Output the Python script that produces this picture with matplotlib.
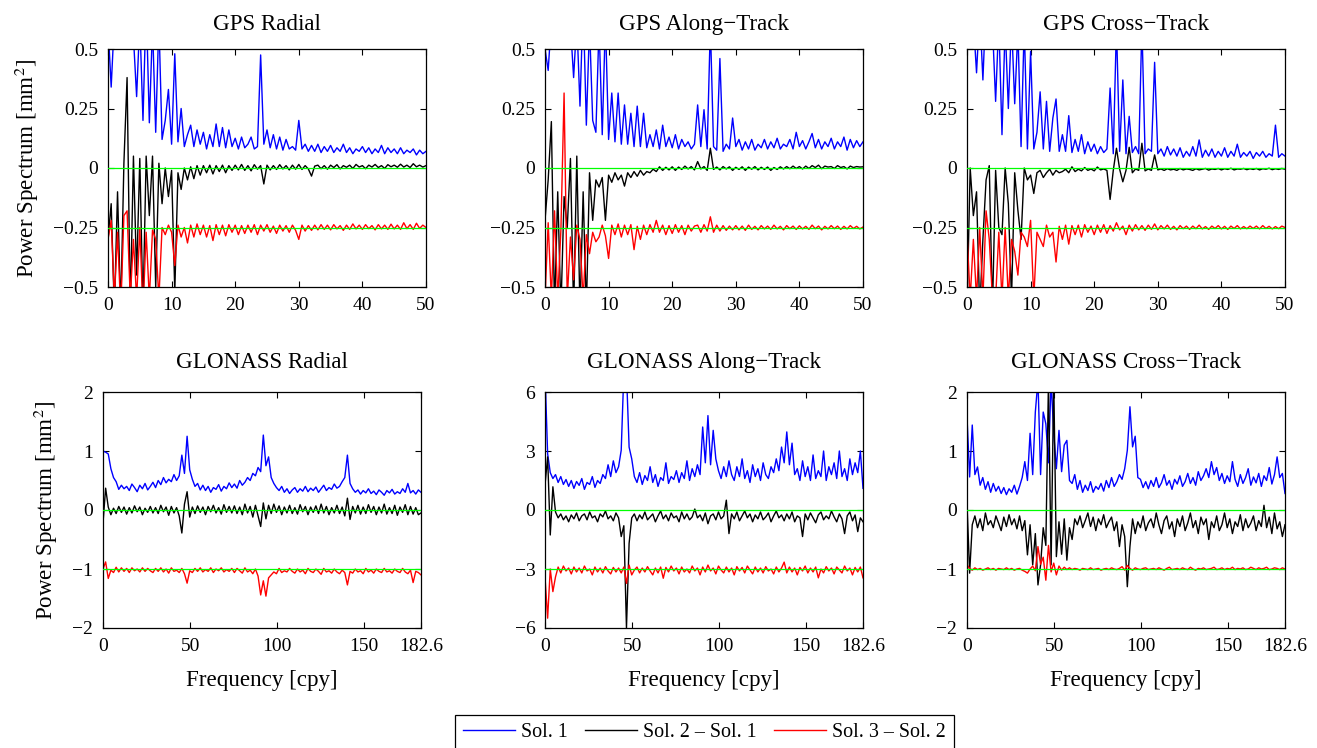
import numpy as np
import matplotlib
matplotlib.use("Agg")
import matplotlib.pyplot as plt

plt.rcParams["font.family"] = "Liberation Serif"
plt.rcParams["mathtext.fontset"] = "stix"

# frequency grids [cpy]
gps_freq = np.arange(101) * 0.5
glo_freq = np.linspace(0, 182.6, 122)

# ---------------- GPS radial ----------------
gps_rad_sol1 = [
    0.60, 0.34, 0.62, 0.70, 0.66, 0.80, 0.72, 0.58, 0.55, 0.30,
    0.62, 0.20, 0.70, 0.19, 0.60, 0.15, 0.62, 0.12, 0.20, 0.33,
    0.10, 0.48, 0.11, 0.25, 0.09, 0.14, 0.18, 0.09, 0.16, 0.10,
    0.15, 0.08, 0.14, 0.09, 0.185, 0.09, 0.17, 0.085, 0.16, 0.09,
    0.125, 0.08, 0.13, 0.085, 0.10, 0.13, 0.08, 0.09, 0.475, 0.10,
    0.16, 0.085, 0.14, 0.08, 0.13, 0.075, 0.12, 0.08, 0.09, 0.075,
    0.20, 0.08, 0.10, 0.07, 0.095, 0.07, 0.10, 0.065, 0.09, 0.07,
    0.095, 0.065, 0.085, 0.07, 0.10, 0.065, 0.085, 0.06, 0.08, 0.07,
    0.09, 0.065, 0.085, 0.06, 0.08, 0.065, 0.095, 0.06, 0.085, 0.065,
    0.08, 0.06, 0.085, 0.06, 0.075, 0.065, 0.08, 0.055, 0.075, 0.06,
    0.07]
gps_rad_sol21 = [
    -0.30, -0.15, -0.60, -0.10, -0.60, 0.02, 0.38, -0.60, 0.05, -0.45,
    0.04, -0.60, 0.05, -0.20, 0.05, -0.50, 0.02, -0.15, 0.00, -0.12,
    -0.01, -0.52, -0.02, -0.09, 0.00, -0.05, 0.005, -0.045, 0.01, -0.03,
    0.01, -0.02, 0.012, -0.025, 0.01, -0.015, 0.012, -0.02, 0.01, -0.01,
    0.012, -0.008, 0.015, -0.01, 0.01, -0.012, 0.014, -0.005, 0.01, -0.067,
    0.012, -0.008, 0.01, -0.006, 0.014, -0.004, 0.01, -0.008, 0.012, -0.005,
    0.015, -0.006, 0.01, -0.004, -0.034, 0.008, 0.012, -0.003, 0.01, -0.005,
    0.012, 0.002, 0.014, -0.004, 0.01, 0.003, 0.012, -0.002, 0.015, 0.004,
    0.01, -0.003, 0.012, 0.004, 0.015, 0.002, 0.01, -0.002, 0.014, 0.005,
    0.012, 0.003, 0.016, 0.004, 0.012, 0.002, 0.018, 0.005, 0.012, 0.004,
    0.01]
gps_rad_sol32 = [
    -0.05, 0.03, -0.30, -0.02, -0.35, 0.05, 0.07, -0.30, -0.05, -0.30,
    0.00, -0.35, -0.02, -0.30, -0.01, -0.05, -0.30, 0.00, -0.03, 0.01,
    -0.02, -0.16, 0.01, -0.04, 0.00, -0.065, 0.01, -0.04, 0.015, -0.03,
    0.01, -0.04, 0.008, -0.055, 0.012, -0.03, 0.01, -0.035, 0.012, -0.02,
    0.01, -0.03, 0.008, -0.025, 0.01, -0.02, 0.012, -0.03, 0.01, -0.015,
    0.012, -0.02, 0.006, -0.025, 0.01, -0.015, 0.008, -0.02, 0.01, -0.012,
    -0.05, 0.01, -0.015, 0.008, -0.012, 0.01, -0.01, 0.012, -0.008, 0.01,
    -0.01, 0.012, -0.006, 0.008, -0.012, 0.01, -0.008, 0.015, -0.006, 0.01,
    -0.008, 0.012, -0.005, 0.008, -0.01, 0.012, -0.006, 0.01, -0.008, 0.014,
    -0.006, 0.01, -0.008, 0.02, -0.005, 0.012, -0.008, 0.018, -0.004, 0.01,
    0.0]

# ---------------- GPS along-track ----------------
gps_alo_sol1 = [
    0.50, 0.41, 0.62, 0.70, 0.66, 0.75, 0.70, 0.65, 0.60, 0.38,
    0.62, 0.26, 0.70, 0.18, 0.60, 0.20, 0.15, 0.60, 0.14, 0.62,
    0.12, 0.315, 0.11, 0.315, 0.10, 0.265, 0.10, 0.23, 0.09, 0.26,
    0.09, 0.23, 0.085, 0.14, 0.09, 0.16, 0.08, 0.18, 0.09, 0.13,
    0.085, 0.14, 0.08, 0.12, 0.09, 0.11, 0.08, 0.10, 0.265, 0.09,
    0.245, 0.08, 0.60, 0.09, 0.075, 0.46, 0.07, 0.10, 0.08, 0.21,
    0.09, 0.12, 0.075, 0.11, 0.08, 0.12, 0.075, 0.10, 0.085, 0.12,
    0.08, 0.11, 0.085, 0.125, 0.08, 0.10, 0.09, 0.12, 0.08, 0.15,
    0.09, 0.115, 0.08, 0.11, 0.145, 0.085, 0.12, 0.08, 0.11, 0.09,
    0.125, 0.08, 0.11, 0.09, 0.13, 0.075, 0.12, 0.085, 0.115, 0.09,
    0.11]
gps_alo_sol21 = [
    -0.22, -0.05, 0.195, -0.60, -0.10, -0.60, -0.12, -0.25, 0.04, -0.60,
    0.05, -0.60, -0.10, -0.60, -0.02, -0.22, -0.05, -0.08, -0.04, -0.22,
    -0.03, -0.06, -0.02, -0.05, -0.03, -0.076, -0.02, -0.04, -0.015, -0.035,
    -0.01, -0.03, -0.015, -0.02, -0.005, -0.015, 0.005, -0.01, 0.003, -0.008,
    0.005, -0.01, 0.004, -0.006, 0.008, -0.004, 0.006, -0.008, 0.027, -0.004,
    0.006, -0.01, 0.083, -0.006, 0.004, -0.008, 0.006, -0.004, 0.005, -0.01,
    0.003, -0.006, 0.005, -0.01, 0.004, -0.005, 0.006, -0.008, 0.003, -0.006,
    0.004, -0.01, 0.002, -0.006, 0.005, -0.004, 0.006, -0.003, 0.008, -0.002,
    0.006, -0.004, 0.008, -0.002, 0.01, 0.002, 0.012, -0.003, 0.008, 0.004,
    0.006, -0.002, 0.01, 0.002, 0.006, -0.004, 0.008, 0.002, 0.006, 0.004,
    0.005]
gps_alo_sol32 = [
    -0.30, 0.02, -0.30, 0.07, -0.30, -0.01, 0.565, -0.30, -0.04, -0.22,
    0.01, -0.05, -0.30, -0.03, -0.11, -0.02, -0.06, -0.04, 0.01, -0.035,
    -0.13, 0.01, -0.03, 0.015, -0.04, 0.01, -0.03, 0.012, -0.093, 0.005,
    -0.05, 0.01, -0.03, 0.012, -0.02, 0.03, -0.02, 0.01, -0.03, 0.008,
    -0.025, 0.012, -0.02, 0.008, -0.03, 0.01, -0.015, 0.006, 0.01, -0.02,
    0.012, -0.015, 0.045, -0.02, 0.01, -0.015, 0.008, -0.012, 0.006, -0.01,
    0.008, -0.01, 0.006, -0.012, 0.01, -0.008, 0.005, -0.01, 0.008, -0.006,
    0.006, -0.008, 0.01, -0.006, 0.005, -0.01, 0.008, -0.005, 0.006, -0.008,
    0.007, -0.006, 0.005, -0.008, 0.01, -0.005, 0.006, -0.01, 0.005, -0.006,
    0.008, -0.005, 0.006, -0.008, 0.005, -0.006, 0.008, -0.004, 0.005, -0.006,
    0.002]

# ---------------- GPS cross-track ----------------
gps_crs_sol1 = [
    0.65, 0.70, 0.62, 0.40, 0.66, 0.37, 0.70, 0.62, 0.60, 0.28,
    0.62, 0.14, 0.60, 0.25, 0.62, 0.27, 0.58, 0.09, 0.60, 0.08,
    0.49, 0.08, 0.15, 0.32, 0.08, 0.28, 0.07, 0.21, 0.29, 0.07,
    0.14, 0.07, 0.22, 0.065, 0.12, 0.07, 0.14, 0.06, 0.11, 0.07,
    0.10, 0.06, 0.09, 0.065, 0.08, 0.336, 0.06, 0.60, 0.07, 0.37,
    0.06, 0.217, 0.065, 0.09, 0.06, 0.60, 0.06, 0.08, 0.07, 0.444,
    0.06, 0.08, 0.05, 0.09, 0.055, 0.08, 0.05, 0.085, 0.045, 0.07,
    0.05, 0.09, 0.05, 0.118, 0.045, 0.075, 0.05, 0.08, 0.045, 0.07,
    0.05, 0.085, 0.045, 0.07, 0.05, 0.10, 0.045, 0.065, 0.05, 0.07,
    0.04, 0.065, 0.05, 0.07, 0.045, 0.06, 0.05, 0.18, 0.045, 0.06,
    0.05]
gps_crs_sol21 = [
    -0.60, 0.00, -0.20, -0.10, -0.60, -0.30, -0.05, 0.01, -0.60, -0.01,
    -0.25, -0.28, 0.00, -0.15, -0.55, -0.02, -0.177, -0.30, 0.00, -0.05,
    -0.03, -0.107, -0.02, -0.01, -0.04, -0.02, -0.005, -0.03, -0.01, -0.02,
    -0.015, -0.005, -0.02, 0.005, -0.015, -0.005, -0.012, 0.002, -0.01, -0.004,
    -0.012, 0.004, -0.008, -0.004, -0.01, -0.132, -0.01, 0.083, -0.005, -0.058,
    -0.01, 0.087, -0.02, -0.004, -0.01, 0.104, -0.012, -0.004, -0.01, 0.055,
    -0.008, -0.004, -0.01, -0.003, -0.008, -0.005, -0.01, -0.002, -0.008, -0.004,
    -0.006, -0.01, -0.003, -0.008, -0.005, -0.002, -0.009, -0.004, -0.006, -0.002,
    -0.008, -0.003, -0.006, -0.001, -0.008, -0.004, -0.005, -0.002, -0.007, -0.003,
    -0.006, -0.002, -0.008, -0.003, -0.005, -0.001, -0.007, -0.003, -0.006, -0.002,
    -0.005]
gps_crs_sol32 = [
    -0.02, -0.30, -0.05, -0.30, 0.00, -0.30, 0.07, -0.05, -0.30, -0.30,
    -0.02, -0.30, 0.00, -0.30, -0.05, -0.10, -0.20, -0.02, -0.04, -0.08,
    0.03, -0.30, -0.02, -0.05, -0.08, 0.01, -0.04, -0.02, -0.145, 0.005,
    -0.05, 0.01, -0.07, 0.008, -0.03, 0.01, -0.04, 0.012, -0.02, 0.006,
    -0.03, 0.01, -0.02, 0.012, -0.025, 0.008, -0.015, 0.02, -0.01, 0.006,
    -0.03, 0.01, -0.015, 0.012, -0.01, 0.008, -0.012, 0.01, -0.008, 0.015,
    -0.01, 0.008, -0.006, 0.01, -0.008, 0.005, -0.01, 0.008, -0.005, 0.006,
    -0.008, 0.006, -0.005, 0.01, -0.006, 0.004, -0.008, 0.006, -0.004, 0.008,
    -0.006, 0.005, -0.008, 0.006, -0.004, 0.008, -0.006, 0.004, -0.005, 0.006,
    -0.004, 0.006, -0.006, 0.008, -0.004, 0.005, -0.006, 0.004, -0.005, 0.006,
    0.0]

# ---------------- GLONASS radial ----------------
glo_rad_sol1 = [
    1.00, 0.98, 0.95, 0.70, 0.55, 0.48, 0.35, 0.42, 0.36, 0.40,
    0.33, 0.44, 0.38, 0.31, 0.42, 0.36, 0.45, 0.34, 0.40, 0.47,
    0.38, 0.50, 0.43, 0.55, 0.46, 0.52, 0.48, 0.60, 0.50, 0.58,
    0.93, 0.62, 1.25, 0.68, 0.52, 0.40, 0.45, 0.34, 0.42, 0.33,
    0.40, 0.30, 0.38, 0.35, 0.43, 0.32, 0.40, 0.36, 0.46, 0.38,
    0.44, 0.37, 0.50, 0.42, 0.47, 0.55, 0.50, 0.62, 0.58, 0.72,
    0.65, 1.27, 0.75, 0.90, 0.55, 0.45, 0.38, 0.33, 0.40, 0.30,
    0.36, 0.28, 0.34, 0.38, 0.30, 0.36, 0.32, 0.40, 0.31, 0.37,
    0.33, 0.39, 0.30, 0.36, 0.42, 0.33, 0.38, 0.35, 0.44, 0.37,
    0.40, 0.48, 0.55, 0.93, 0.45, 0.36, 0.30, 0.34, 0.27, 0.33,
    0.29, 0.36, 0.28, 0.32, 0.26, 0.34, 0.30, 0.25, 0.33, 0.29,
    0.35, 0.27, 0.31, 0.28, 0.36, 0.30, 0.45, 0.29, 0.33, 0.27,
    0.34, 0.30]
glo_rad_sol21 = [
    -0.22, 0.37, 0.05, -0.08, 0.03, -0.06, 0.06, -0.04, 0.05, -0.07,
    0.04, -0.05, 0.07, -0.03, 0.05, -0.08, 0.03, -0.04, 0.06, -0.05,
    0.04, -0.06, 0.08, -0.03, 0.05, -0.09, 0.06, -0.05, 0.04, -0.10,
    -0.39, 0.10, 0.31, -0.12, 0.05, -0.06, 0.07, -0.04, 0.05, -0.08,
    0.06, -0.03, 0.08, -0.05, 0.04, -0.07, 0.09, -0.04, 0.06, -0.05,
    0.07, -0.06, 0.05, -0.08, 0.10, -0.05, 0.06, -0.12, 0.08, -0.10,
    -0.28, 0.12, -0.15, 0.08, -0.06, 0.10, -0.04, 0.07, -0.08, 0.05,
    -0.05, 0.08, -0.06, 0.04, -0.07, 0.09, -0.03, 0.06, -0.08, 0.05,
    -0.04, 0.07, -0.06, 0.10, -0.05, 0.06, -0.08, 0.04, -0.05, 0.08,
    -0.06, 0.05, -0.10, 0.20, -0.16, 0.06, -0.05, 0.08, -0.07, 0.05,
    -0.06, 0.09, -0.04, 0.06, -0.08, 0.05, -0.05, 0.10, -0.07, 0.04,
    -0.06, 0.08, -0.09, 0.05, -0.04, 0.09, -0.08, 0.06, -0.07, 0.04,
    -0.08, -0.05]
glo_rad_sol32 = [
    0.00, 0.12, -0.16, -0.02, -0.06, 0.03, -0.05, 0.02, -0.04, 0.01,
    -0.06, 0.02, -0.03, 0.00, -0.05, 0.02, -0.04, 0.01, -0.03, -0.06,
    0.01, -0.04, 0.02, -0.05, 0.00, -0.07, 0.02, -0.04, -0.02, -0.06,
    0.01, -0.08, -0.24, -0.03, -0.06, 0.01, -0.04, 0.02, -0.05, -0.01,
    -0.04, 0.02, -0.06, 0.00, -0.03, 0.02, -0.05, -0.01, -0.04, 0.01,
    -0.06, 0.01, -0.03, -0.07, 0.02, -0.05, -0.02, -0.08, 0.00, -0.12,
    -0.44, -0.20, -0.46, -0.15, -0.10, -0.05, -0.08, 0.01, -0.06, -0.03,
    -0.05, 0.01, -0.04, -0.07, 0.00, -0.05, -0.02, -0.08, 0.01, -0.04,
    -0.06, 0.00, -0.04, -0.09, 0.01, -0.05, -0.03, -0.07, 0.00, -0.05,
    -0.08, -0.02, -0.06, -0.27, -0.04, -0.07, 0.00, -0.05, -0.03, -0.08,
    0.01, -0.05, -0.02, -0.07, 0.00, -0.04, -0.06, 0.01, -0.05, -0.03,
    -0.07, 0.00, -0.04, -0.06, 0.01, -0.05, -0.08, -0.02, -0.23, -0.04,
    -0.06, -0.10]

# ---------------- GLONASS along-track ----------------
glo_alo_sol1 = [
    7.00, 2.86, 1.90, 1.60, 1.80, 1.40, 1.70, 1.30, 1.55, 1.20,
    1.50, 1.10, 1.45, 1.25, 1.60, 1.05, 1.40, 1.30, 1.70, 1.15,
    1.50, 1.35, 1.80, 1.60, 2.30, 1.70, 2.50, 1.90, 2.20, 3.04,
    7.00, 7.00, 3.20, 2.60, 1.70, 1.40, 1.90, 1.30, 1.75, 1.50,
    2.20, 1.40, 1.80, 1.20, 1.65, 1.50, 2.40, 1.35, 1.70, 1.55,
    2.00, 1.40, 1.90, 1.60, 2.50, 1.50, 2.10, 1.70, 2.30, 1.80,
    4.22, 2.40, 4.80, 2.30, 4.05, 2.60, 2.00, 1.60, 2.20, 1.70,
    2.50, 1.80, 1.50, 2.20, 1.70, 2.60, 1.60, 2.00, 1.40, 2.30,
    1.70, 2.10, 1.50, 2.40, 1.80, 1.60, 2.20, 1.90, 2.60, 2.00,
    3.20, 2.40, 3.97, 2.30, 3.40, 1.80, 2.10, 1.50, 2.50, 1.70,
    2.20, 1.50, 2.80, 1.60, 2.00, 1.70, 3.00, 1.50, 2.20, 1.80,
    2.40, 1.60, 3.00, 1.70, 2.10, 1.50, 2.60, 1.80, 2.40, 1.90,
    3.00, 1.10]
glo_alo_sol21 = [
    1.27, 2.70, -1.27, 1.18, -0.10, -0.40, -0.20, -0.50, -0.30, -0.60,
    -0.25, -0.45, -0.15, -0.55, -0.30, -0.20, -0.50, -0.10, -0.40, -0.30,
    -0.60, -0.20, -0.35, -0.05, -0.45, -0.30, -0.55, -0.15, -0.40, -1.35,
    -0.80, -6.00, -1.70, -0.40, -0.20, -0.55, -0.25, -0.45, -0.10, -0.50,
    -0.35, -0.20, -0.60, -0.30, -0.05, -0.45, -0.25, -0.55, -0.15, -0.40,
    -0.30, -0.60, -0.10, -0.45, -0.20, -0.50, -0.35, 0.05, -0.40, -0.25,
    -0.55, -0.15, -0.70, -0.30, -0.20, -0.50, -0.10, -0.45, -0.30, 0.50,
    -1.20, -0.20, -0.45, -0.10, -0.55, -0.30, -0.05, -0.40, -0.20, -0.60,
    -0.25, -0.45, -0.10, -0.50, -0.35, -0.15, -0.60, -0.30, -0.05, -0.40,
    -0.25, -0.55, -0.20, -0.45, -0.10, -0.60, -0.30, -0.40, -1.35, -0.20,
    -0.50, -0.15, -0.40, -0.65, -0.25, -0.10, -0.50, -0.30, -0.45, -0.05,
    -0.35, -0.60, -0.20, -0.45, -1.20, -0.30, -0.10, -0.55, -0.25, -1.10,
    -0.40, -0.60]
glo_alo_sol32 = [
    -0.40, -2.50, 0.00, -1.15, -0.40, 0.10, -0.20, 0.15, -0.10, 0.05,
    -0.25, 0.10, -0.15, 0.05, -0.20, 0.15, -0.10, 0.00, -0.30, 0.10,
    -0.15, 0.05, -0.20, 0.12, -0.10, -0.25, 0.08, -0.15, 0.05, -0.20,
    0.10, -0.73, 0.20, -0.30, -0.05, 0.10, -0.20, 0.05, -0.15, 0.12,
    -0.10, -0.30, 0.05, -0.20, 0.10, -0.47, 0.08, -0.15, 0.15, -0.10,
    0.05, -0.25, 0.10, -0.15, 0.00, -0.20, 0.15, -0.10, 0.05, -0.30,
    0.10, -0.15, 0.20, -0.10, 0.05, -0.25, 0.15, -0.05, -0.20, 0.10,
    -0.15, 0.05, -0.30, 0.12, -0.10, 0.08, -0.20, 0.15, -0.05, -0.25,
    0.10, -0.15, 0.05, -0.20, 0.12, -0.10, 0.00, -0.25, 0.10, -0.15,
    0.05, 0.35, -0.20, 0.10, -0.15, 0.05, -0.30, 0.08, -0.10, 0.15,
    -0.20, 0.05, -0.15, 0.10, -0.45, 0.00, -0.20, 0.12, -0.10, 0.05,
    -0.25, 0.10, -0.05, -0.20, 0.15, -0.10, 0.05, -0.30, 0.08, -0.15,
    0.10, -0.45]

# ---------------- GLONASS cross-track ----------------
glo_crs_sol1 = [
    1.58, 0.56, 1.44, 0.60, 0.73, 0.42, 0.55, 0.35, 0.48, 0.30,
    0.45, 0.32, 0.40, 0.28, 0.38, 0.26, 0.36, 0.30, 0.42, 0.27,
    0.40, 0.55, 0.82, 0.50, 1.30, 0.60, 1.66, 2.20, 0.60, 1.66,
    1.46, 0.80, 2.20, 1.30, 0.70, 1.35, 0.65, 1.10, 1.18, 0.50,
    0.45, 0.60, 0.35, 0.50, 0.30, 0.42, 0.33, 0.48, 0.30, 0.40,
    0.35, 0.45, 0.32, 0.50, 0.38, 0.55, 0.40, 0.48, 0.60, 0.52,
    0.70, 1.01, 1.75, 1.07, 1.25, 0.55, 0.52, 0.38, 0.48, 0.36,
    0.50, 0.40, 0.55, 0.38, 0.46, 0.60, 0.42, 0.50, 0.35, 0.52,
    0.44, 0.58, 0.40, 0.48, 0.62, 0.45, 0.55, 0.42, 0.65, 0.50,
    0.58, 0.70, 0.55, 0.82, 0.60, 0.72, 0.50, 0.62, 0.45, 0.58,
    0.48, 0.82, 0.52, 0.40, 0.60, 0.45, 0.55, 0.70, 0.42, 0.56,
    0.46, 0.62, 0.40, 0.58, 0.50, 0.72, 0.44, 0.60, 0.90, 0.55,
    0.62, 0.28]
glo_crs_sol21 = [
    0.11, -1.07, -0.25, -0.10, -0.30, -0.15, -0.35, -0.05, -0.25, -0.18,
    -0.30, -0.10, -0.22, -0.35, -0.12, -0.28, -0.08, -0.25, -0.15, -0.32,
    -0.10, -0.35, -0.18, -0.76, -0.25, -0.93, -0.40, -1.27, -0.93, -0.30,
    -0.60, 2.20, -0.93, 2.20, -0.79, -0.20, -0.75, -0.15, -0.85, -0.30,
    -0.50, -0.15, -0.25, -0.10, -0.30, -0.18, -0.05, -0.28, -0.12, -0.35,
    -0.15, -0.25, -0.08, -0.30, -0.20, -0.12, -0.35, -0.20, -0.62, -0.25,
    -0.45, -1.30, -0.62, -0.15, -0.40, -0.20, -0.30, -0.10, -0.35, -0.22,
    -0.15, -0.30, -0.05, -0.25, -0.40, -0.18, -0.10, -0.32, -0.20, -0.45,
    -0.15, -0.28, -0.10, -0.35, -0.22, -0.05, -0.30, -0.18, -0.40, -0.12,
    -0.25, -0.15, -0.50, -0.20, -0.30, -0.10, -0.35, -0.25, -0.05, -0.30,
    -0.15, -0.40, -0.20, -0.28, -0.08, -0.35, -0.15, -0.30, -0.22, -0.10,
    -0.35, -0.18, -0.28, 0.08, -0.30, -0.12, -0.40, -0.05, -0.32, -0.20,
    -0.45, -0.25]
glo_crs_sol32 = [
    0.07, 0.01, -0.02, 0.02, -0.01, 0.01, -0.02, 0.00, 0.02, -0.01,
    0.01, -0.02, 0.01, 0.00, -0.01, 0.02, -0.01, 0.01, -0.02, 0.00,
    0.01, -0.02, -0.04, -0.07, 0.00, 0.05, -0.03, 0.38, 0.08, 0.20,
    -0.19, 0.40, -0.05, 0.10, -0.10, 0.05, -0.02, 0.03, -0.01, 0.02,
    -0.01, 0.01, 0.00, -0.02, 0.01, 0.00, -0.01, 0.02, -0.01, 0.00,
    0.01, -0.02, 0.00, 0.01, -0.01, 0.02, 0.00, -0.01, 0.01, 0.04,
    -0.02, 0.06, 0.01, -0.02, 0.02, 0.00, -0.01, 0.01, 0.02, -0.01,
    0.00, 0.01, -0.01, 0.02, 0.00, -0.02, 0.01, 0.03, -0.01, 0.00,
    0.01, -0.01, 0.02, 0.00, -0.01, 0.03, 0.00, -0.02, 0.01, 0.00,
    0.02, -0.01, 0.00, 0.01, 0.03, -0.01, 0.00, 0.02, -0.01, 0.01,
    0.00, 0.03, -0.01, 0.01, 0.00, 0.02, -0.01, 0.00, 0.03, 0.01,
    -0.01, 0.02, 0.00, 0.01, 0.03, -0.01, 0.00, 0.02, 0.01, -0.01,
    0.02, 0.00]

titles = ["GPS Radial", "GPS Along\u2212Track", "GPS Cross\u2212Track",
          "GLONASS Radial", "GLONASS Along\u2212Track", "GLONASS Cross\u2212Track"]
# vertical shift applied to Sol. 3 - Sol. 2 in each panel
red_offsets = [-0.25, -0.25, -0.25, -1.0, -3.0, -1.0]
y_limits = [(-0.5, 0.5)] * 3 + [(-2, 2), (-6, 6), (-2, 2)]
y_ticks = [[-0.5, -0.25, 0, 0.25, 0.5]] * 3 + [[-2, -1, 0, 1, 2], [-6, -3, 0, 3, 6], [-2, -1, 0, 1, 2]]

panels = [
    (gps_freq, gps_rad_sol1, gps_rad_sol21, gps_rad_sol32),
    (gps_freq, gps_alo_sol1, gps_alo_sol21, gps_alo_sol32),
    (gps_freq, gps_crs_sol1, gps_crs_sol21, gps_crs_sol32),
    (glo_freq, glo_rad_sol1, glo_rad_sol21, glo_rad_sol32),
    (glo_freq, glo_alo_sol1, glo_alo_sol21, glo_alo_sol32),
    (glo_freq, glo_crs_sol1, glo_crs_sol21, glo_crs_sol32),
]

W, H = 1317, 748
fig = plt.figure(figsize=(W / 100, H / 100), dpi=100)

# axes boxes in pixels: left, top, right, bottom
boxes = [(108, 49, 426, 287), (545, 49, 863, 287), (967, 49, 1285, 287),
         (103, 392, 421, 628), (545, 392, 863, 628), (967, 392, 1285, 628)]


def fmt(v):
    s = ("%g" % v)
    return s.replace("-", "\u2212")


for k in range(6):
    l, t, r, b = boxes[k]
    ax = fig.add_axes([l / W, 1 - b / H, (r - l) / W, (b - t) / H])
    freq, s1, s21, s32 = panels[k]
    off = red_offsets[k]
    l1, = ax.plot(freq, s1, color="blue", lw=1.0)
    l2, = ax.plot(freq, s21, color="black", lw=1.0)
    l3, = ax.plot(freq, np.array(s32) + off, color="red", lw=1.0)
    ax.axhline(0, color=(0, 1, 0), lw=0.9, zorder=5)
    ax.axhline(off, color=(0, 1, 0), lw=0.9, zorder=5)

    ax.set_ylim(*y_limits[k])
    ax.set_yticks(y_ticks[k])
    ax.set_yticklabels([fmt(v) for v in y_ticks[k]])
    if k < 3:
        ax.set_xlim(0, 50)
        ax.set_xticks([0, 10, 20, 30, 40, 50])
        ax.set_title(titles[k], fontsize=16.6, pad=14)
    else:
        ax.set_xlim(0, 182.6)
        ax.set_xticks([0, 50, 100, 150, 182.6])
        ax.set_xticklabels(["0", "50", "100", "150", "182.6"])
        ax.set_title(titles[k], fontsize=16.6, pad=17)
        ax.set_xlabel("Frequency [cpy]", fontsize=16.6, labelpad=11)
    if k % 3 == 0:
        ax.set_ylabel(r"Power Spectrum [mm$^2$]", fontsize=16.6, labelpad=9)

    ax.tick_params(direction="in", top=True, right=True, length=4, width=0.8,
                   labelsize=14, pad=7)
    for sp in ax.spines.values():
        sp.set_linewidth(0.9)
    if k == 0:
        handles = [l1, l2, l3]

leg = fig.legend(handles, ["Sol. 1", "Sol. 2 \u2013 Sol. 1", "Sol. 3 \u2013 Sol. 2"],
                 loc="upper center", bbox_to_anchor=(704.5 / W, 1 - 715 / H),
                 ncol=3, fontsize=14.4, frameon=True, fancybox=False,
                 edgecolor="black", framealpha=1, handlelength=2.6,
                 handletextpad=0.3, columnspacing=0.85, borderpad=0.4,
                 borderaxespad=0)
leg.get_frame().set_linewidth(0.9)

fig.savefig("out.png", dpi=100)
